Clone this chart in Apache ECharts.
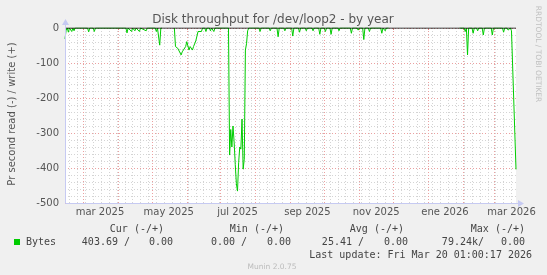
<!DOCTYPE html>
<html><head><meta charset="utf-8">
<script src="https://cdn.jsdelivr.net/npm/echarts@6/dist/echarts.min.js"></script>
<style>html,body{margin:0;padding:0;background:#f0f0f0}#c{width:547px;height:275px}</style>
</head><body><div id="c"></div>
<script>
const chartTitle = 'Disk throughput for /dev/loop2 - by year';
const yAxisTitle = 'Pr second read (-) / write (+)';
const sideText = 'RRDTOOL / TOBI OETIKER';
const rangeStart = '2025-02-13';
const rangeEnd = '2026-03-20';
const monthTickDates = ['2025-03-01','2025-04-01','2025-05-01','2025-06-01','2025-07-01','2025-08-01','2025-09-01','2025-10-01','2025-11-01','2025-12-01','2026-01-01','2026-02-01','2026-03-01'];
const monthLabelDates = ['2025-03-16','2025-05-16','2025-07-16','2025-09-16','2025-11-16','2026-01-16','2026-03-16'];
const monthLabels = ['mar 2025','may 2025','jul 2025','sep 2025','nov 2025','ene 2026','mar 2026'];
const yMin = -500, yMax = 0, yStep = 100;

const readDates = [
'2025-02-13','2025-02-14','2025-02-15','2025-02-16','2025-02-17','2025-02-19','2025-02-20','2025-02-21','2025-02-22',
'2025-03-05','2025-03-06','2025-03-07','2025-03-10','2025-03-11','2025-03-12',
'2025-04-08','2025-04-09','2025-04-10','2025-04-13','2025-04-14','2025-04-16','2025-04-17','2025-04-20','2025-04-21','2025-04-26','2025-04-27',
'2025-05-04','2025-05-05','2025-05-06','2025-05-07','2025-05-08','2025-05-09','2025-05-10','2025-05-11',
'2025-05-21','2025-05-22','2025-05-24','2025-05-25','2025-05-27','2025-05-28','2025-05-29','2025-05-31',
'2025-06-01','2025-06-03','2025-06-04','2025-06-06','2025-06-07','2025-06-08','2025-06-09','2025-06-11','2025-06-14','2025-06-15',
'2025-06-17','2025-06-18','2025-06-19','2025-06-21','2025-06-22','2025-06-23','2025-06-24','2025-06-25','2025-06-26',
'2025-07-08','2025-07-09','2025-07-10','2025-07-11','2025-07-12','2025-07-13','2025-07-14','2025-07-15','2025-07-16','2025-07-17',
'2025-07-18','2025-07-19','2025-07-20','2025-07-21','2025-07-22','2025-07-23','2025-07-24','2025-07-25','2025-07-26',
'2025-08-04','2025-08-05','2025-08-06','2025-08-13','2025-08-14','2025-08-15','2025-08-20','2025-08-21','2025-08-22',
'2025-08-26','2025-08-27','2025-08-28','2025-09-02','2025-09-03','2025-09-04','2025-09-08','2025-09-09','2025-09-10',
'2025-09-14','2025-09-15','2025-09-16','2025-09-20','2025-09-21','2025-09-22','2025-09-26','2025-09-27','2025-09-28',
'2025-10-01','2025-10-02','2025-10-03','2025-10-06','2025-10-07','2025-10-08','2025-10-13','2025-10-14','2025-10-15',
'2025-10-24','2025-10-25','2025-10-26','2025-10-30','2025-10-31','2025-11-01','2025-11-04','2025-11-05','2025-11-06',
'2025-11-09','2025-11-10','2025-11-11','2025-11-20','2025-11-21','2025-11-22','2025-11-23','2025-11-24','2025-11-25','2025-11-27','2025-11-28',
'2026-01-29','2026-02-02','2026-02-03','2026-02-04','2026-02-05','2026-02-06','2026-02-09','2026-02-10','2026-02-11',
'2026-02-13','2026-02-14','2026-02-15','2026-02-18','2026-02-19','2026-02-20','2026-02-26','2026-02-27','2026-02-28',
'2026-03-08','2026-03-09','2026-03-10','2026-03-12','2026-03-13','2026-03-15','2026-03-16','2026-03-20'
];
const readValues = [
-31,-6,0,-12,0,-10,0,-8,0,
0,-11,0,0,-10,0,
0,-14,0,-10,0,-8,0,-10,0,-8,0,
0,-10,0,0,-49,0,0,null,
0,-53,-58,-53,-77,-68,-63,-53,
-39,-63,-53,-63,-53,-58,-37,-10,-10,0,
0,-10,0,0,-8,0,0,-10,0,
0,-363,-290,-340,-280,-326,-390,-445,-466,-385,
-340,-346,-260,-403,-375,-63,-45,-8,0,
0,-10,0,0,-8,0,0,-25,0,
0,-8,0,0,-23,0,0,-12,0,
0,-8,0,0,-8,0,0,-18,0,
0,-10,0,0,-18,0,0,-8,0,
0,-15,0,0,-6,0,0,-33,0,
0,-10,0,0,-15,0,0,-8,0,0,null,
0,0,-10,0,-77,0,0,-15,0,
0,-8,0,0,-20,0,0,-20,0,
0,-12,0,0,-6,0,-8,-404
];
const writeDates = ['2025-02-13','2026-03-20'];
const writeValues = [0, 0];

const legendName = 'Bytes';
const statHeaders = ['Cur (-/+)','Min (-/+)','Avg (-/+)','Max (-/+)'];
const statRead = ['403.69 ','0.00 ','25.41 ','79.24k'];
const statWrite = ['0.00','0.00','0.00','0.00'];
const lastUpdate = 'Last update: Fri Mar 20 01:00:17 2026';
const footer = 'Munin 2.0.75';

const T = s => { const p = s.split('-').map(Number); return Date.UTC(p[0], p[1]-1, p[2]); };
const DAY = 86400000;
const tMin = T(rangeStart), tMax = T(rangeEnd);
const monthTicks = monthTickDates.map(T);
const labelTicks = monthLabelDates.map(T);
const weekTicks = [];
for (let t = T('2025-02-17'); t < tMax; t += 7*DAY) if (monthTicks.indexOf(t) < 0) weekTicks.push(t);

const readData = readDates.map((d,i) => [T(d), readValues[i]]);
const writeData = writeDates.map((d,i) => [T(d), writeValues[i]]);

const GREEN = '#00cc00';
const AXIS = '#c6caf2';
const mono = 'DejaVu Sans Mono';
const sans = 'DejaVu Sans';

const txt = (x, y, s, align) => ({
  type: 'text', x: x, y: y, silent: true,
  style: { text: s, font: '10px "' + mono + '"', fill: '#444', textAlign: align || 'left', textVerticalAlign: 'middle' }
});

const hdrRight = [164, 284, 404, 525];
const readRight = [130, 247, 364, 484];
const writeRight = [173, 291, 408, 525];
const graphics = [
  { type: 'text', x: 273, y: 20, silent: true, style: { text: chartTitle, font: '12px "' + sans + '"', fill: '#555', textAlign: 'center', textVerticalAlign: 'middle' } },
  { type: 'text', x: 12, y: 114, rotation: Math.PI/2, silent: true, style: { text: yAxisTitle, font: '10px "' + sans + '"', fill: '#555', textAlign: 'center', textVerticalAlign: 'middle' } },
  { type: 'text', x: 538, y: 54, rotation: -Math.PI/2, silent: true, style: { text: sideText, font: '7.5px "' + sans + '"', fill: '#c0c0c0', textAlign: 'center', textVerticalAlign: 'middle' } },
  { type: 'line', silent: true, z: 50, shape: { x1: 65.5, y1: 203.5, x2: 518, y2: 203.5 }, style: { stroke: AXIS, lineWidth: 1 } },
  { type: 'polygon', silent: true, z: 50, shape: { points: [[518,200],[518,207],[524,203.5]] }, style: { fill: AXIS } },
  { type: 'line', silent: true, z: 50, shape: { x1: 65.5, y1: 203.5, x2: 65.5, y2: 25 }, style: { stroke: AXIS, lineWidth: 1 } },
  { type: 'polygon', silent: true, z: 50, shape: { points: [[62,25],[69,25],[65.5,19]] }, style: { fill: AXIS } },
  { type: 'rect', silent: true, shape: { x: 14, y: 239, width: 6, height: 6 }, style: { fill: GREEN } },
  txt(26, 242, legendName, 'left'),
  txt(532, 255, lastUpdate, 'right'),
  { type: 'text', x: 272, y: 267, silent: true, style: { text: footer, font: '7.5px "' + sans + '"', fill: '#bbb', textAlign: 'center', textVerticalAlign: 'middle' } }
];
statHeaders.forEach((h,i) => graphics.push(txt(hdrRight[i], 229, h, 'right')));
statRead.forEach((v,i) => graphics.push(txt(readRight[i], 242, v + '/', 'right')));
statWrite.forEach((v,i) => graphics.push(txt(writeRight[i], 242, v, 'right')));

const chart = echarts.init(document.getElementById('c'), null, { renderer: 'canvas' });
chart.setOption({
  animation: false,
  backgroundColor: '#f0f0f0',
  grid: { left: 65, right: 31, top: 28, bottom: 72, show: true, backgroundColor: '#ffffff', borderWidth: 0 },
  xAxis: {
    type: 'value', min: tMin, max: tMax,
    axisLine: { show: false },
    axisTick: { show: true, customValues: monthTicks, length: 2, lineStyle: { color: '#e08080' } },
    axisLabel: {
      customValues: labelTicks, fontSize: 10, fontFamily: sans, color: '#555', margin: 4,
      showMinLabel: true, showMaxLabel: true,
      formatter: function (v) {
        let best = 0, bd = Infinity;
        labelTicks.forEach((t,i) => { const d = Math.abs(t - v); if (d < bd) { bd = d; best = i; } });
        return monthLabels[best];
      }
    },
    splitLine: { show: false }
  },
  yAxis: {
    type: 'value', min: yMin, max: yMax, interval: yStep,
    axisLine: { show: false },
    axisTick: { show: false },
    axisLabel: { fontSize: 10, fontFamily: sans, color: '#555', margin: 6 },
    splitLine: { show: true, lineStyle: { color: '#eba0a0', type: [1,2], width: 1 } },
    minorTick: { show: false, splitNumber: 5 },
    minorSplitLine: { show: true, lineStyle: { color: '#d4d4d4', type: [1,2], width: 1 } }
  },
  series: [
    { type: 'line', name: 'weeks', data: [], silent: true,
      markLine: { z: 1, silent: true, symbol: 'none', label: { show: false }, animation: false,
        lineStyle: { color: '#d4d4d4', type: [1,2], width: 1 }, data: weekTicks.map(t => ({ xAxis: t })) } },
    { type: 'line', name: 'months', data: [], silent: true,
      markLine: { z: 1, silent: true, symbol: 'none', label: { show: false }, animation: false,
        lineStyle: { color: '#eba0a0', type: [1,2], width: 1 }, data: monthTicks.map(t => ({ xAxis: t })) } },
    { type: 'line', name: legendName, data: readData, showSymbol: false, symbol: 'none', z: 3,
      lineStyle: { color: GREEN, width: 1 }, connectNulls: false },
    { type: 'line', name: 'write', data: writeData, showSymbol: false, symbol: 'none', z: 4,
      lineStyle: { color: '#000000', width: 1 } }
  ],
  graphic: graphics
});
</script></body></html>
